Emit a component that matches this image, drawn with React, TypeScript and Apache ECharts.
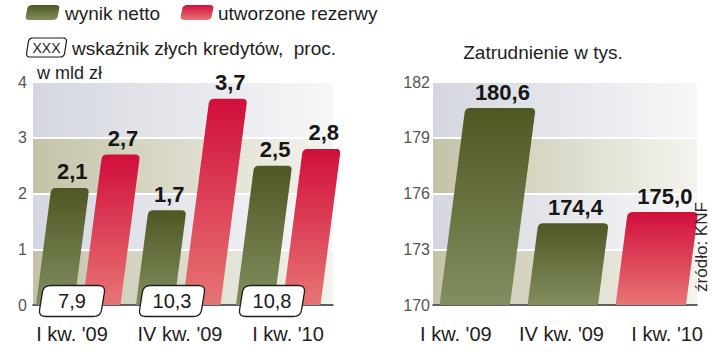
import React, { useEffect, useRef } from 'react';
import * as echarts from 'echarts';

// ---- data ----
const categories = ["I kw. '09", "IV kw. '09", "I kw. '10"];
const netProfit = [2.1, 1.7, 2.5];
const provisions = [2.7, 3.7, 2.8];
const badLoanRatio = [7.9, 10.3, 10.8];
const employment = [180.6, 174.4, 175.0];
const employmentKind = ['netto', 'netto', 'rezerwy'];
const leftTicks = [0, 1, 2, 3, 4];
const rightTicks = [170, 173, 176, 179, 182];

const FONT = "'Liberation Sans', Arial, sans-serif";
const SLANT = 0.13;

const fmt = (v: number) => v.toFixed(1).replace('.', ',');

function roundPoly(pts: number[][], radii: number[], seg = 5): number[][] {
  const out: number[][] = [];
  const n = pts.length;
  for (let i = 0; i < n; i++) {
    const P = pts[i];
    const r = radii[i];
    if (!r) { out.push(P); continue; }
    const A = pts[(i - 1 + n) % n];
    const B = pts[(i + 1) % n];
    const da = Math.hypot(A[0] - P[0], A[1] - P[1]);
    const db = Math.hypot(B[0] - P[0], B[1] - P[1]);
    const p1 = [P[0] + (A[0] - P[0]) * r / da, P[1] + (A[1] - P[1]) * r / da];
    const p2 = [P[0] + (B[0] - P[0]) * r / db, P[1] + (B[1] - P[1]) * r / db];
    for (let k = 0; k <= seg; k++) {
      const t = k / seg, u = 1 - t;
      out.push([
        u * u * p1[0] + 2 * u * t * P[0] + t * t * p2[0],
        u * u * p1[1] + 2 * u * t * P[1] + t * t * p2[1],
      ]);
    }
  }
  return out;
}

const greenGrad = () => new echarts.graphic.LinearGradient(0, 0, 0, 1, [
  { offset: 0, color: '#4e5823' },
  { offset: 1, color: '#828e60' },
]);
const redGrad = () => new echarts.graphic.LinearGradient(0, 0, 0, 1, [
  { offset: 0, color: '#d10f3b' },
  { offset: 1, color: '#e77575' },
]);
const beigeGrad = () => new echarts.graphic.LinearGradient(0, 0, 1, 0, [
  { offset: 0, color: '#c4c3a8' },
  { offset: 1, color: '#f4f4ef' },
]);
const blueGrad = () => new echarts.graphic.LinearGradient(0, 0, 1, 0, [
  { offset: 0, color: '#d4d7df' },
  { offset: 1, color: '#f6f7f8' },
]);

function barRenderer(offsetFrac: number, widthFrac: number, baseValue: number, fillFor: (idx: number) => any) {
  return (params: any, api: any) => {
    const i = api.value(0);
    const v = api.value(1);
    const base = api.coord([i, baseValue]);
    const top = api.coord([i, v]);
    const band = api.size([1, 0])[0];
    const cx = base[0] + offsetFrac * band;
    const w = widthFrac * band;
    const yb = base[1];
    const yt = top[1];
    const sk = SLANT * (yb - yt);
    const pts = [
      [cx - w / 2 + sk, yt],
      [cx + w / 2 + sk, yt],
      [cx + w / 2, yb],
      [cx - w / 2, yb],
    ];
    return {
      type: 'group',
      children: [
        { type: 'polygon', shape: { points: roundPoly(pts, [5, 5, 0, 0]) }, style: { fill: fillFor(params.dataIndex) } },
        {
          type: 'text',
          style: {
            text: fmt(v), x: cx + sk + 2, y: yt - 5, align: 'center', verticalAlign: 'bottom',
            font: `bold 22px ${FONT}`, fill: '#161616',
          },
        },
      ],
    };
  };
}

function boxRenderer(params: any, api: any) {
  const i = api.value(0);
  const v = api.value(2);
  const c = api.coord([i, api.value(1)]);
  const band = api.size([1, 0])[0];
  const cx = c[0] - 0.11 * band;
  const cy = c[1] - 4;
  const w = 62, h = 31, sk = 5;
  const pts = [
    [cx - w / 2 + sk / 2, cy - h / 2],
    [cx + w / 2 + sk / 2, cy - h / 2],
    [cx + w / 2 - sk / 2, cy + h / 2],
    [cx - w / 2 - sk / 2, cy + h / 2],
  ];
  return {
    type: 'group',
    children: [
      { type: 'polygon', shape: { points: roundPoly(pts, [7, 7, 7, 7]) }, style: { fill: '#ffffff', stroke: '#1e1e1e', lineWidth: 1.3 } },
      {
        type: 'text',
        style: { text: fmt(v), x: cx, y: cy, align: 'center', verticalAlign: 'middle', font: `20px ${FONT}`, fill: '#1a1a1a' },
      },
    ],
  };
}

function swatch(x: number, y: number, w: number, h: number, fill: any, stroke?: string) {
  const sk = 3;
  const pts = [
    [x + sk, y], [x + w, y], [x + w - sk, y + h], [x, y + h],
  ];
  return {
    type: 'polygon',
    shape: { points: roundPoly(pts, [4, 4, 4, 4]) },
    style: stroke ? { fill, stroke, lineWidth: 1.2 } : { fill },
    z: 10,
  };
}

export default function App() {
  const ref = useRef<HTMLDivElement>(null);

  useEffect(() => {
    if (!ref.current) return;
    const chart = echarts.init(ref.current, undefined, { renderer: 'svg' });

    const valueAxisCommon = {
      type: 'value',
      axisLine: { show: false },
      axisTick: { show: false },
      splitLine: { show: true, lineStyle: { color: '#ffffff', width: 2 } },
      splitArea: { show: true, areaStyle: { color: [beigeGrad(), blueGrad()] } },
    };
    const catAxisMain = {
      type: 'category',
      data: categories,
      axisLine: { show: true, lineStyle: { color: '#2b2b2b', width: 1.5 } },
      axisTick: { show: false },
      axisLabel: { show: false },
      splitLine: { show: false },
    };
    const catAxisLabels = {
      type: 'category',
      data: categories,
      axisLine: { show: false },
      axisTick: { show: false },
      axisLabel: { fontSize: 20, color: '#1e1e1e', fontFamily: FONT, margin: 19, interval: 0, hideOverlap: false },
      splitLine: { show: false },
    };

    const option: any = {
      animation: false,
      backgroundColor: '#ffffff',
      grid: [
        { left: 33, top: 82, width: 300, height: 223 },
        { left: 433, top: 82, width: 264, height: 223 },
        { left: 18, top: 82, width: 324, height: 223 },
        { left: 403, top: 82, width: 324, height: 223 },
      ],
      xAxis: [
        { ...catAxisMain, gridIndex: 0 },
        { ...catAxisMain, gridIndex: 1 },
        { ...catAxisLabels, gridIndex: 2 },
        { ...catAxisLabels, gridIndex: 3 },
      ],
      yAxis: [
        {
          ...valueAxisCommon, gridIndex: 0,
          min: leftTicks[0], max: leftTicks[leftTicks.length - 1], interval: leftTicks[1] - leftTicks[0],
          axisLabel: { color: '#555', fontSize: 16, fontFamily: FONT, margin: 6 },
        },
        {
          ...valueAxisCommon, gridIndex: 1,
          min: rightTicks[0], max: rightTicks[rightTicks.length - 1], interval: rightTicks[1] - rightTicks[0],
          axisLabel: { color: '#555', fontSize: 16, fontFamily: FONT, margin: 3 },
        },
        { type: 'value', gridIndex: 2, show: false, min: 0, max: 1 },
        { type: 'value', gridIndex: 3, show: false, min: 0, max: 1 },
      ],
      graphic: [
        swatch(25, 5, 35, 15, greenGrad()),
        { type: 'text', x: 65, y: 13, z: 10, style: { text: 'wynik netto', font: `19px ${FONT}`, fill: '#1e1e1e', verticalAlign: 'middle' } },
        swatch(180, 5, 34, 15, redGrad()),
        { type: 'text', x: 218, y: 13, z: 10, style: { text: 'utworzone rezerwy', font: `19px ${FONT}`, fill: '#1e1e1e', verticalAlign: 'middle' } },
        swatch(26, 38, 41, 19, '#ffffff', '#1e1e1e'),
        { type: 'text', x: 46.5, y: 47.5, z: 11, style: { text: 'XXX', font: `14px ${FONT}`, fill: '#1e1e1e', align: 'center', verticalAlign: 'middle' } },
        { type: 'text', x: 72, y: 48, z: 10, style: { text: 'wskaźnik złych kredytów,  proc.', font: `19px ${FONT}`, fill: '#1e1e1e', verticalAlign: 'middle' } },
        { type: 'text', x: 37, y: 73, z: 10, style: { text: 'w mld zł', font: `18px ${FONT}`, fill: '#1e1e1e', verticalAlign: 'middle' } },
        { type: 'text', x: 543, y: 52, z: 10, style: { text: 'Zatrudnienie w tys.', font: `19px ${FONT}`, fill: '#1e1e1e', align: 'center', verticalAlign: 'middle' } },
        { type: 'text', x: 701, y: 247, rotation: Math.PI / 2, z: 10, style: { text: 'źródło: KNF', font: `17px ${FONT}`, fill: '#2a2a2a', align: 'center', verticalAlign: 'middle' } },
      ],
      series: [
        {
          name: 'wynik netto', type: 'custom', xAxisIndex: 0, yAxisIndex: 0, clip: false, z: 2,
          data: netProfit.map((v, i) => [i, v]),
          encode: { x: 0, y: 1 },
          renderItem: barRenderer(-0.28, 0.38, leftTicks[0], () => greenGrad()),
        },
        {
          name: 'utworzone rezerwy', type: 'custom', xAxisIndex: 0, yAxisIndex: 0, clip: false, z: 2,
          data: provisions.map((v, i) => [i, v]),
          encode: { x: 0, y: 1 },
          renderItem: barRenderer(0.185, 0.38, leftTicks[0], () => redGrad()),
        },
        {
          name: 'wskaźnik złych kredytów', type: 'custom', xAxisIndex: 0, yAxisIndex: 0, clip: false, z: 4,
          data: badLoanRatio.map((v, i) => [i, leftTicks[0], v]),
          encode: { x: 0, y: 1 },
          renderItem: boxRenderer,
        },
        {
          name: 'Zatrudnienie', type: 'custom', xAxisIndex: 1, yAxisIndex: 1, clip: false, z: 2,
          data: employment.map((v, i) => [i, v]),
          encode: { x: 0, y: 1 },
          renderItem: barRenderer(-0.025, 0.8, rightTicks[0], (idx: number) => (employmentKind[idx] === 'netto' ? greenGrad() : redGrad())),
        },
      ],
    };

    chart.setOption(option);
    return () => chart.dispose();
  }, []);

  return <div ref={ref} style={{ position: 'fixed', left: 0, top: 0, width: 720, height: 355 }} />;
}
